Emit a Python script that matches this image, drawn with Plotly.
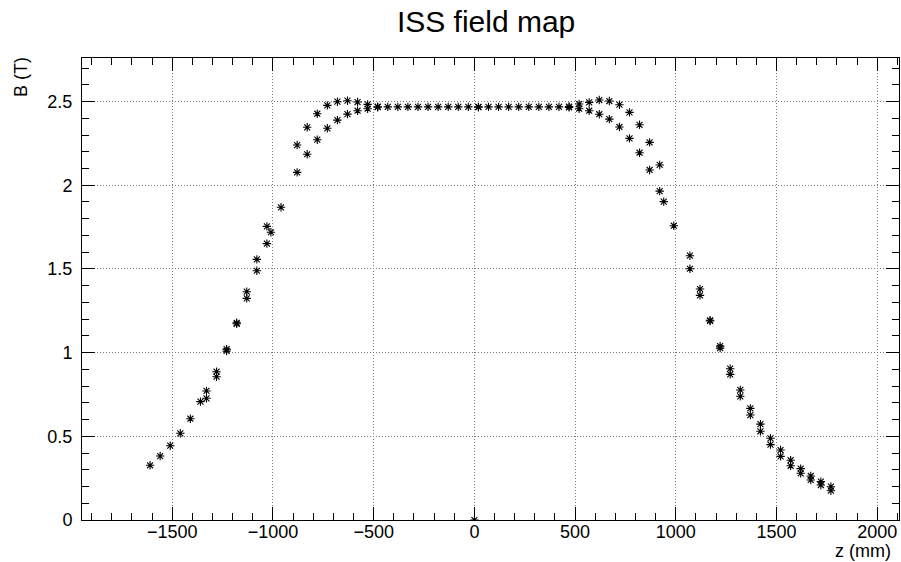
import plotly.graph_objects as go

# ---- data (z in mm, B in tesla) ----
z_upper = [-1610, -1560, -1510, -1460, -1410, -1360, -1330, -1280, -1230, -1180,
           -1130, -1080, -1030, -1010, -960, -880, -830, -780, -730, -680,
           -630, -580, -530, -480, -430, -380, -330, -280, -230, -180,
           -130, -80, -30, 20, 70, 120, 170, 220, 270, 320,
           370, 420, 470, 520, 570, 620, 670, 720, 770, 820,
           870, 920, 940, 990, 1070, 1120, 1170, 1220, 1270, 1320,
           1370, 1420, 1470, 1520, 1570, 1620, 1670, 1720, 1770, 0]
b_upper = [0.327, 0.382, 0.444, 0.518, 0.605, 0.707, 0.771, 0.886, 1.021, 1.178,
           1.364, 1.557, 1.754, 1.719, 1.868, 2.240, 2.346, 2.427, 2.477, 2.499,
           2.505, 2.497, 2.483, 2.469, 2.468, 2.468, 2.468, 2.468, 2.468, 2.468,
           2.468, 2.468, 2.468, 2.468, 2.468, 2.468, 2.468, 2.468, 2.468, 2.468,
           2.468, 2.468, 2.470, 2.485, 2.495, 2.509, 2.503, 2.481, 2.435, 2.361,
           2.256, 2.121, 1.902, 1.758, 1.579, 1.380, 1.193, 1.039, 0.904, 0.777,
           0.667, 0.573, 0.488, 0.418, 0.357, 0.307, 0.263, 0.229, 0.199, 0.0]

z_lower = [-1330, -1280, -1230, -1180, -1130, -1080, -1030, -880, -830, -780,
           -730, -680, -630, -580, -530, -480, 20, 470, 520, 570,
           620, 670, 720, 770, 820, 870, 920, 1070, 1120, 1170,
           1220, 1270, 1320, 1370, 1420, 1470, 1520, 1570, 1620, 1670,
           1720, 1770]
b_lower = [0.727, 0.856, 1.010, 1.172, 1.324, 1.489, 1.651, 2.077, 2.185, 2.272,
           2.340, 2.389, 2.425, 2.445, 2.457, 2.466, 2.466, 2.465, 2.457, 2.445,
           2.424, 2.395, 2.348, 2.280, 2.194, 2.091, 1.965, 1.501, 1.342, 1.189,
           1.027, 0.870, 0.739, 0.627, 0.530, 0.450, 0.380, 0.324, 0.279, 0.239,
           0.209, 0.175]

title_text = "ISS field map"
x_title = "z (mm)"
y_title = "B (T)"

FONT = "Liberation Sans, Arial, Helvetica, sans-serif"

marker = dict(symbol="asterisk-open", size=7, color="black",
              line=dict(color="black", width=1.1))

fig = go.Figure()
fig.add_trace(go.Scatter(x=z_upper, y=b_upper, mode="markers", marker=marker,
                         showlegend=False, hoverinfo="x+y"))
fig.add_trace(go.Scatter(x=z_lower, y=b_lower, mode="markers", marker=marker,
                         showlegend=False, hoverinfo="x+y"))

axis_common = dict(
    showline=True, linecolor="black", linewidth=1, mirror="allticks",
    ticks="inside", ticklen=13, tickwidth=1, tickcolor="black",
    showgrid=True, gridcolor="#7a7a7a", griddash="1px,2px", gridwidth=1,
    zeroline=False,
    tickfont=dict(family=FONT, size=18, color="black"),
)

fig.update_xaxes(range=[-1948, 2108], dtick=500, tick0=0,
                 ticklabelstandoff=-5,
                 minor=dict(dtick=100, ticks="inside", ticklen=7,
                            tickcolor="black", showgrid=False),
                 **axis_common)
fig.update_yaxes(range=[0, 2.76], dtick=0.5, tick0=0,
                 ticklabelstandoff=5,
                 minor=dict(dtick=0.1, ticks="inside", ticklen=7,
                            tickcolor="black", showgrid=False),
                 **axis_common)

fig.update_layout(
    width=901, height=562,
    margin=dict(l=82, r=2, t=58, b=42),
    paper_bgcolor="white", plot_bgcolor="white",
    font=dict(family=FONT, color="black"),
    title=dict(text=title_text, x=0.5395, xanchor="center", y=0.962, yanchor="middle",
               font=dict(family=FONT, size=30, color="black")),
    annotations=[
        dict(text=x_title, xref="paper", yref="paper", x=1, y=0,
             xanchor="right", yanchor="top", yshift=-19, xshift=-6,
             showarrow=False, font=dict(family=FONT, size=18, color="black")),
        dict(text=y_title, xref="paper", yref="paper", x=0, y=1,
             xanchor="center", yanchor="top", xshift=-61, yshift=3, textangle=-90,
             showarrow=False, font=dict(family=FONT, size=18, color="black")),
    ],
)

fig.write_html("out.html",
               config={"displayModeBar": False},
               post_script="document.body.style.margin='0';document.body.style.padding='0';document.body.style.overflow='hidden';")
